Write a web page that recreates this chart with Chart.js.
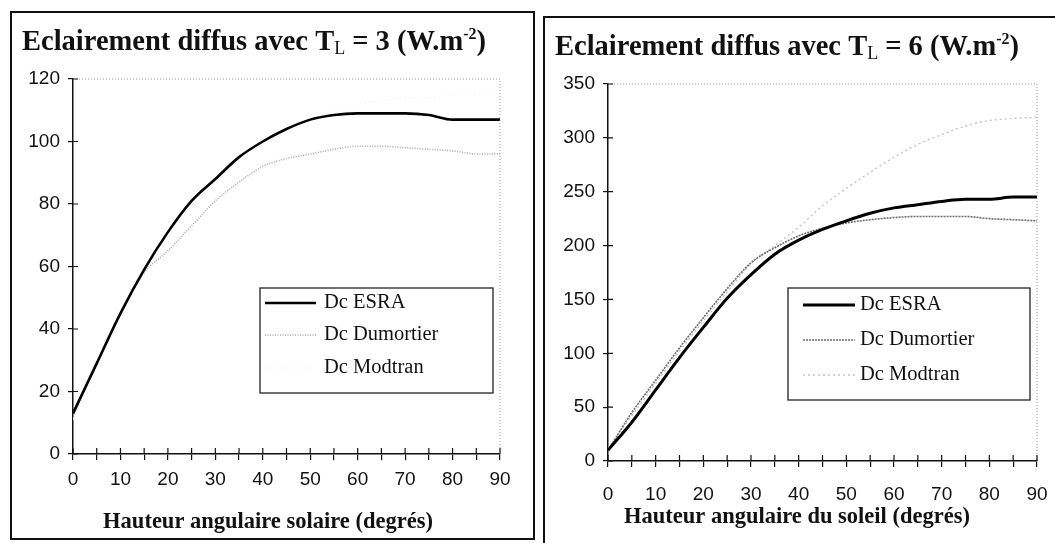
<!DOCTYPE html>
<html>
<head>
<meta charset="utf-8">
<script src="https://cdn.jsdelivr.net/npm/chart.js@4/dist/chart.umd.min.js"></script>
<style>
  body { margin: 0; background: #fff; width: 1055px; height: 543px; overflow: hidden; position: relative; }
  .box { position: absolute; border: 2px solid #111; box-sizing: border-box; }
  #box1 { left: 10px; top: 11px; width: 525px; height: 529px; }
  #box2 { left: 543px; top: 16px; width: 530px; height: 545px; }
  canvas { position: absolute; top: 0; }
  #c1 { left: 0; }
  #c2 { left: 535px; }
</style>
</head>
<body>
<div class="box" id="box1"></div>
<div class="box" id="box2"></div>
<canvas id="c1" width="535" height="543"></canvas>
<canvas id="c2" width="540" height="543"></canvas>
<script>
// hauteur angulaire (degres)
let angles = [0, 5, 10, 15, 20, 25, 30, 35, 40, 45, 50, 55, 60, 65, 70, 75, 80, 85, 90];

// T_L = 3
let esra3      = [13, 29, 45, 59, 71, 81, 88, 95, 100, 104, 107, 108.5, 109, 109, 109, 108.5, 107, 107, 107];
let dumortier3 = [12, 29, 45, 58, 65, 73, 81, 87, 92, 94.5, 96, 97.5, 98.5, 98.5, 98, 97.5, 97, 96, 96];
let modtran3   = [11, 28, 44, 57, 69, 79, 87, 94, 99, 104, 107, 110, 112, 113, 114, 114, 115, 115, 115];

// T_L = 6
let esra6      = [10, 36, 66, 96, 124, 151, 173, 192, 205, 215, 223, 230, 235, 238, 241, 243, 243, 245, 245];
let dumortier6 = [10, 45, 75, 105, 133, 160, 184, 198, 209, 216, 221, 224, 226, 227, 227, 227, 225, 224, 223];
let modtran6   = [12, 42, 72, 102, 130, 157, 183, 200, 217, 237, 253, 268, 282, 294, 303, 311, 316, 318, 319];

let seriesNames = ['Dc ESRA', 'Dc Dumortier', 'Dc Modtran'];

let chart3 = { yMax: 120, yStep: 20, tl: '3', xTitle: 'Hauteur angulaire solaire (degrés)' };
let chart6 = { yMax: 350, yStep: 50, tl: '6', xTitle: 'Hauteur angulaire du soleil (degrés)' };

function points(values) {
    return angles.map((a, i) => ({ x: a, y: values[i] }));
}

// titre, titre de l'axe x, legende encadree, petites graduations et bord pointille
const frame = {
    id: 'frame',
    afterDraw(chart, args, opts) {
        const ctx = chart.ctx;
        const area = chart.chartArea;
        const xs = chart.scales.x, ys = chart.scales.y;
        ctx.save();

        // bord pointille haut et droite
        ctx.strokeStyle = '#9a9a9a';
        ctx.lineWidth = 1;
        ctx.setLineDash([1, 2]);
        ctx.beginPath();
        ctx.moveTo(area.left, area.top);
        ctx.lineTo(area.right, area.top);
        ctx.lineTo(area.right, area.bottom);
        ctx.stroke();
        ctx.setLineDash([]);

        // graduations vers l'interieur
        ctx.strokeStyle = '#111';
        ctx.lineWidth = 1.2;
        ctx.beginPath();
        xs.ticks.forEach(t => {
            const px = xs.getPixelForValue(t.value);
            ctx.moveTo(px, area.bottom - 6);
            ctx.lineTo(px, area.bottom);
        });
        ys.ticks.forEach(t => {
            const py = ys.getPixelForValue(t.value);
            ctx.moveTo(area.left, py);
            ctx.lineTo(area.left + 5, py);
        });
        ctx.stroke();

        // titre avec indice et exposant
        let x = opts.titleX, y = opts.titleY;
        const big = 'bold 28.5px "Liberation Serif"';
        const parts = [
            { t: 'Eclairement diffus avec T', f: big, dy: 0 },
            { t: 'L', f: '18px "Liberation Serif"', dy: 4 },
            { t: ' = ' + opts.tl + ' (W.m', f: big, dy: 0 },
            { t: '-2', f: 'bold 16px "Liberation Serif"', dy: -11 },
            { t: ')', f: big, dy: 0 }
        ];
        ctx.fillStyle = '#111';
        ctx.textBaseline = 'alphabetic';
        ctx.textAlign = 'left';
        parts.forEach(p => {
            ctx.font = p.f;
            ctx.fillText(p.t, x, y + p.dy);
            x += ctx.measureText(p.t).width;
        });

        // titre de l'axe x
        ctx.font = 'bold 22.5px "Liberation Serif"';
        ctx.textAlign = 'center';
        ctx.textBaseline = 'middle';
        ctx.fillText(opts.xTitle, opts.xTitleX, opts.xTitleY);

        // legende
        const lg = opts.legend;
        ctx.textAlign = 'left';
        ctx.fillStyle = '#fff';
        ctx.fillRect(lg.x, lg.y, lg.w, lg.h);
        ctx.strokeStyle = '#222';
        ctx.lineWidth = 1.3;
        ctx.strokeRect(lg.x, lg.y, lg.w, lg.h);
        ctx.font = '20.5px "Liberation Serif"';
        chart.data.datasets.forEach((ds, i) => {
            const ry = lg.rows[i];
            ctx.strokeStyle = ds.borderColor;
            ctx.lineWidth = ds.borderWidth;
            ctx.setLineDash(ds.borderDash || []);
            ctx.beginPath();
            ctx.moveTo(lg.lineX0, ry);
            ctx.lineTo(lg.lineX1, ry);
            ctx.stroke();
            ctx.setLineDash([]);
            ctx.fillStyle = '#111';
            ctx.fillText(ds.label, lg.textX, ry);
        });
        ctx.restore();
    }
};

function makeChart(id, cfg, esra, dum, mod, styles, layout) {
    return new Chart(document.getElementById(id), {
        type: 'line',
        data: {
            datasets: [
                { label: seriesNames[0], data: points(esra), borderColor: '#000', borderWidth: styles.esraW, borderDash: [] },
                { label: seriesNames[1], data: points(dum), borderColor: styles.dumColor, borderWidth: 1.6, borderDash: styles.dumDash },
                { label: seriesNames[2], data: points(mod), borderColor: styles.modColor, borderWidth: 1.4, borderDash: [2, 3] }
            ].map(d => Object.assign(d, { pointRadius: 0, fill: false, cubicInterpolationMode: 'monotone' }))
        },
        options: {
            responsive: false,
            animation: false,
            layout: { padding: layout.padding },
            plugins: {
                legend: { display: false },
                tooltip: { enabled: false },
                frame: Object.assign({ tl: cfg.tl, xTitle: cfg.xTitle }, layout.frame)
            },
            scales: {
                x: {
                    type: 'linear', min: 0, max: 90,
                    border: { color: '#111', width: 1.5 },
                    grid: { drawOnChartArea: false, tickLength: 6, color: '#111', lineWidth: 1.2 },
                    ticks: {
                        stepSize: 5, autoSkip: false, maxRotation: 0, padding: layout.xTickPad,
                        color: '#111', font: { family: '"Liberation Sans"', size: 19 },
                        callback: v => (v % 10 === 0 ? v : '')
                    },
                    afterFit: s => { s.height = layout.xHeight; }
                },
                y: {
                    min: 0, max: cfg.yMax,
                    border: { color: '#111', width: 1.5 },
                    grid: { drawOnChartArea: false, tickLength: 5, color: '#111', lineWidth: 1.2 },
                    ticks: {
                        stepSize: cfg.yStep, padding: 8,
                        color: '#111', font: { family: '"Liberation Sans"', size: 19 }
                    },
                    afterFit: s => { s.width = 73; }
                }
            }
        },
        plugins: [frame]
    });
}

makeChart('c1', chart3, esra3, dumortier3, modtran3,
    { esraW: 2.6, dumColor: '#a8a8a8', dumDash: [1, 1.5], modColor: '#f8f8f8' },
    {
        padding: { top: 79, right: 35, bottom: 0, left: 0 },
        xHeight: 89, xTickPad: 8,
        frame: {
            titleX: 22, titleY: 50, xTitleX: 268, xTitleY: 522,
            legend: { x: 260, y: 288, w: 233, h: 105, rows: [303, 335, 368], lineX0: 265, lineX1: 316, textX: 324 }
        }
    });

makeChart('c2', chart6, esra6, dumortier6, modtran6,
    { esraW: 3, dumColor: '#6e6e6e', dumDash: [2, 1], modColor: '#c4c4c4' },
    {
        padding: { top: 84, right: 38, bottom: 0, left: 0 },
        xHeight: 82, xTickPad: 16,
        frame: {
            titleX: 20, titleY: 55, xTitleX: 262, xTitleY: 517,
            legend: { x: 253, y: 288, w: 242, h: 112, rows: [305, 340, 375], lineX0: 268, lineX1: 320, textX: 325 }
        }
    });
</script>
</body>
</html>
